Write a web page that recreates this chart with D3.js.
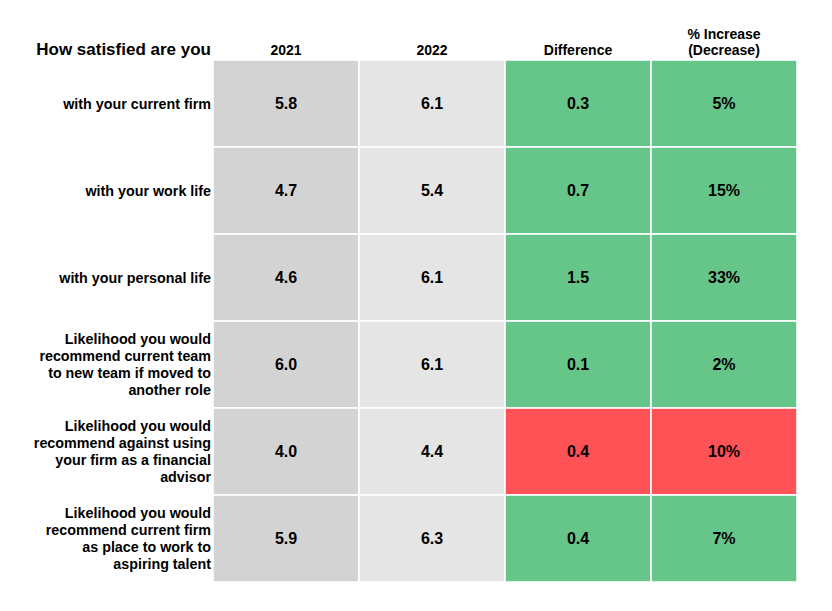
<!DOCTYPE html>
<html>
<head>
<meta charset="utf-8">
<script src="https://cdn.jsdelivr.net/npm/d3@7"></script>
<style>
  html, body { margin: 0; padding: 0; background: #fff; }
  text { font-family: "Liberation Sans", Arial, Helvetica, sans-serif; font-weight: bold; fill: #000; }
</style>
</head>
<body>
<svg id="chart" width="832" height="611"></svg>
<script>
const title = "How satisfied are you";
const categories = [
  "with your current firm",
  "with your work life",
  "with your personal life",
  "Likelihood you would\nrecommend current team\nto new team if moved to\nanother role",
  "Likelihood you would\nrecommend against using\nyour firm as a financial\nadvisor",
  "Likelihood you would\nrecommend current firm\nas place to work to\naspiring talent"
];
const columns = ["2021", "2022", "Difference", "% Increase\n(Decrease)"];
const values2021 = [5.8, 4.7, 4.6, 6.0, 4.0, 5.9];
const values2022 = [6.1, 5.4, 6.1, 6.1, 4.4, 6.3];
const differences = [0.3, 0.7, 1.5, 0.1, 0.4, 0.4];
const pctChange = [5, 15, 33, 2, 10, 7];
const outcome = ["good", "good", "good", "good", "bad", "good"];

const svg = d3.select("#chart");
const x = d3.scaleBand().domain(columns).range([213, 797]).paddingInner(0);
const y = d3.scaleBand().domain(categories).range([60, 582]).paddingInner(0);

const outcomeColor = d3.scaleOrdinal().domain(["good", "bad"]).range(["#66c68a", "#ff5257"]);
const yearColor = d3.scaleOrdinal().domain(["2021", "2022"]).range(["#d3d3d3", "#e5e5e5"]);

const cells = [];
categories.forEach((c, i) => {
  cells.push({ col: columns[0], row: c, text: values2021[i].toFixed(1), fill: yearColor("2021") });
  cells.push({ col: columns[1], row: c, text: values2022[i].toFixed(1), fill: yearColor("2022") });
  cells.push({ col: columns[2], row: c, text: differences[i].toFixed(1), fill: outcomeColor(outcome[i]) });
  cells.push({ col: columns[3], row: c, text: pctChange[i] + "%", fill: outcomeColor(outcome[i]) });
});

const g = svg.append("g");
g.selectAll("rect.cell").data(cells).join("rect")
  .attr("class", "cell")
  .attr("x", d => x(d.col))
  .attr("y", d => y(d.row))
  .attr("width", x.bandwidth())
  .attr("height", y.bandwidth())
  .attr("fill", d => d.fill)
  .attr("stroke", "#fff")
  .attr("stroke-width", 1.6);

g.selectAll("text.val").data(cells).join("text")
  .attr("class", "val")
  .attr("x", d => x(d.col) + x.bandwidth() / 2)
  .attr("y", d => y(d.row) + y.bandwidth() / 2)
  .attr("dy", "0.36em")
  .attr("text-anchor", "middle")
  .style("font-size", "16px")
  .text(d => d.text);

// column headers (bottom-aligned)
const hdr = svg.append("g");
columns.forEach(col => {
  const lines = col.split("\n");
  const t = hdr.append("text")
    .attr("text-anchor", "middle")
    .style("font-size", "14px");
  lines.forEach((ln, k) => {
    t.append("tspan")
      .attr("x", x(col) + x.bandwidth() / 2)
      .attr("y", 55 - (lines.length - 1 - k) * 16)
      .text(ln);
  });
});

// title
svg.append("text")
  .attr("x", x.range()[0] - 2)
  .attr("y", 55)
  .attr("text-anchor", "end")
  .style("font-size", "17px")
  .text(title);

// row labels
const lh = 17;
categories.forEach(c => {
  const lines = c.split("\n");
  const cy = y(c) + y.bandwidth() / 2;
  const t = svg.append("text")
    .attr("text-anchor", "end")
    .style("font-size", "14.3px");
  lines.forEach((ln, k) => {
    t.append("tspan")
      .attr("x", x.range()[0] - 2)
      .attr("y", cy + (k - (lines.length - 1) / 2) * lh)
      .attr("dy", "0.36em")
      .text(ln);
  });
});
</script>
</body>
</html>
